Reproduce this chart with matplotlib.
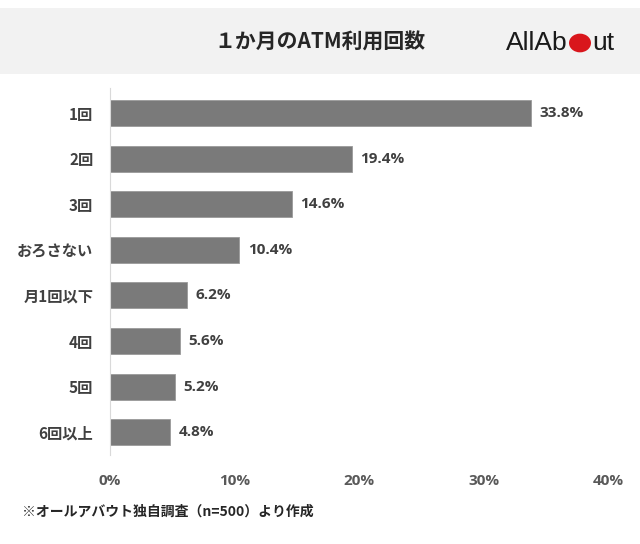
import matplotlib.pyplot as plt
from matplotlib.patches import Circle, Rectangle

plt.rcParams['font.family'] = ['Noto Sans CJK JP', 'DejaVu Sans']
latin = ['Open Sans', 'Noto Sans CJK JP']

categories = ["1回", "2回", "3回", "おろさない", "月1回以下", "4回", "5回", "6回以上"]
values = [33.8, 19.4, 14.6, 10.4, 6.2, 5.6, 5.2, 4.8]
ticks = [0, 10, 20, 30, 40]
tick_labels = ["0%", "10%", "20%", "30%", "40%"]
title = "１か月のATM利用回数"
note = "※オールアバウト独自調査（n=500）より作成"

W, H = 640, 544
fig = plt.figure(figsize=(6.4, 5.44), dpi=100)

# header band
fig.patches.append(Rectangle((0, 1 - 74 / H), 1, 66 / H, transform=fig.transFigure,
                             facecolor="#f2f2f2", edgecolor="none", zorder=0))
fig.text(320 / W, 1 - 42 / H, title, ha="center", va="center",
         fontsize=15, fontweight="bold", color="#262626")

# logo
fig.text(568 / W, 1 - 43 / H, "AllAb", ha="right", va="center", fontsize=19,
         color="#1a1a1a", family=['Liberation Sans Narrow', 'Liberation Sans'])
fig.patches.append(Circle((580 / W, 1 - 43 / H), 11 / W, transform=fig.transFigure,
                          facecolor="#d9161c", edgecolor="none"))
fig.text(592 / W, 1 - 43 / H, "ut", ha="left", va="center", fontsize=19,
         color="#1a1a1a", family=['Liberation Sans Narrow', 'Liberation Sans'])

ax = fig.add_axes([110 / W, 1 - 455 / H, (608 - 110) / W, (455 - 88) / H])
y = list(range(len(categories)))
ax.barh(y, values, height=0.57, color="#7a7a7a", edgecolor="#9a9a9a", linewidth=0.6)
for yi, v in zip(y, values):
    ax.text(v + 0.7, yi, f"{v:.1f}%", va="center", ha="left",
            fontsize=11, fontweight="bold", color="#404040", family=latin)

ax.set_xlim(0, 40)
ax.set_ylim(7.5, -0.55)
ax.set_yticks(y)
ax.set_yticklabels(categories, fontsize=11, fontweight="bold", color="#404040")
ax.set_xticks(ticks)
ax.set_xticklabels(tick_labels, fontsize=11, fontweight="bold", color="#595959", family=latin)
ax.tick_params(axis="y", length=0, pad=12)
ax.tick_params(axis="x", length=0, pad=14)
for s in ["top", "right", "bottom"]:
    ax.spines[s].set_visible(False)
ax.spines["left"].set_color("#d9d9d9")

fig.text(22 / W, 1 - 512 / H, note, ha="left", va="center",
         fontsize=10, fontweight="bold", color="#262626")

fig.savefig("out.png", dpi=100)
